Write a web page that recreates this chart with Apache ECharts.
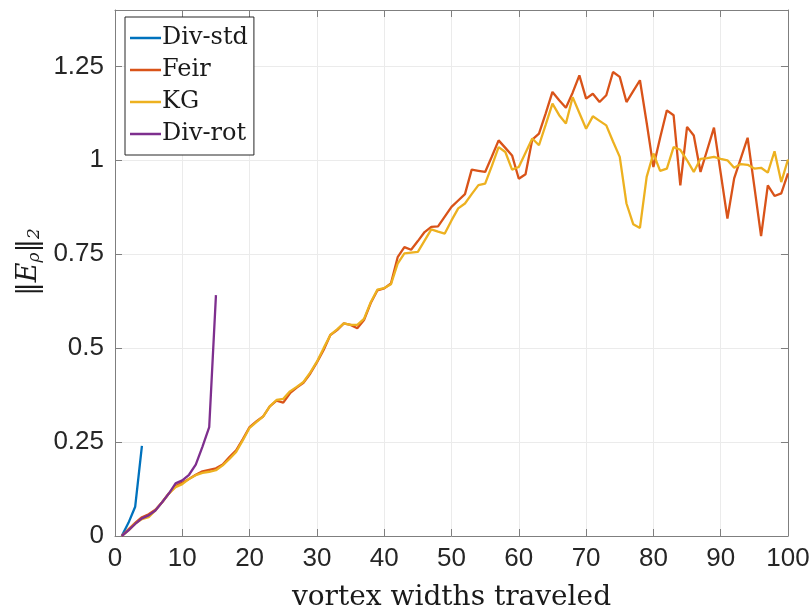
<!DOCTYPE html>
<html>
<head>
<meta charset="utf-8">
<script src="https://cdn.jsdelivr.net/npm/echarts@6/dist/echarts.min.js"></script>
<style>
  html, body { margin: 0; padding: 0; background: #fff; }
  #chart { width: 812px; height: 616px; }
</style>
</head>
<body>
<div id="chart"></div>
<script>
// Error norm ||E_rho||_2 against distance travelled (in vortex widths).
// Each series is sampled once per vortex width, starting at 1.
const seriesNames = ['Div-std', 'Feir', 'KG', 'Div-rot'];

const divStd = [0, 0.035, 0.078, 0.24];

const feir = [
  0, 0.018, 0.035, 0.05, 0.058, 0.07, 0.09, 0.113, 0.133, 0.142,
  0.152, 0.163, 0.172, 0.176, 0.18, 0.19, 0.21, 0.228, 0.258, 0.29,
  0.305, 0.318, 0.345, 0.36, 0.355, 0.38, 0.395, 0.408, 0.432, 0.462,
  0.495, 0.535, 0.548, 0.566, 0.562, 0.553, 0.575, 0.62, 0.654, 0.659,
  0.672, 0.742, 0.769, 0.762, 0.785, 0.809, 0.823, 0.824, 0.85, 0.876,
  0.893, 0.91, 0.975, 0.972, 0.969, 1.01, 1.053, 1.033, 1.013, 0.951,
  0.963, 1.055, 1.071, 1.125, 1.182, 1.16, 1.14, 1.18, 1.226, 1.164,
  1.177, 1.155, 1.173, 1.235, 1.222, 1.155, 1.184, 1.213, 1.10, 0.982,
  1.06, 1.133, 1.12, 0.933, 1.089, 1.066, 0.969, 1.028, 1.087, 0.966,
  0.845, 0.952, 1.006, 1.06, 0.93, 0.798, 0.933, 0.905, 0.912, 0.965
];

const kg = [
  0, 0.015, 0.033, 0.045, 0.05, 0.068, 0.09, 0.113, 0.13, 0.138,
  0.152, 0.162, 0.168, 0.171, 0.175, 0.188, 0.205, 0.224, 0.255, 0.288,
  0.303, 0.318, 0.345, 0.362, 0.365, 0.385, 0.397, 0.41, 0.435, 0.464,
  0.5, 0.535, 0.55, 0.566, 0.562, 0.562, 0.578, 0.622, 0.656, 0.66,
  0.67, 0.725, 0.752, 0.754, 0.756, 0.786, 0.816, 0.81, 0.805, 0.84,
  0.872, 0.885, 0.91, 0.934, 0.938, 0.985, 1.035, 1.022, 0.975, 0.982,
  1.02, 1.058, 1.04, 1.095, 1.151, 1.12, 1.098, 1.168, 1.126, 1.084,
  1.117, 1.105, 1.093, 1.05, 1.009, 0.885, 0.83, 0.82, 0.956, 1.018,
  0.972, 0.978, 1.035, 1.028, 1.0, 0.969, 1.004, 1.006, 1.009, 1.004,
  1.0, 0.98, 0.99, 0.988, 0.978, 0.98, 0.967, 1.024, 0.942, 1.002
];

const divRot = [
  0, 0.015, 0.032, 0.047, 0.055, 0.068, 0.09, 0.113, 0.14, 0.148,
  0.163, 0.19, 0.238, 0.29, 0.641
];

const xTicks = [0, 10, 20, 30, 40, 50, 60, 70, 80, 90, 100];
const yTicks = [0, 0.25, 0.5, 0.75, 1, 1.25];

const colors = ['#0072BD', '#D95319', '#EDB120', '#7E2F8E'];

// pair each value with its step number (1, 2, 3, ...)
function toPoints(values) {
  return values.map(function (v, i) { return [i + 1, v]; });
}

const sans = '"Liberation Sans", Arial, Helvetica, sans-serif';
const serif = '"DejaVu Serif", "Liberation Serif", serif';
const axisGray = '#7f7f7f';
const gridGray = '#ebebeb';

const chart = echarts.init(document.getElementById('chart'), null, { renderer: 'canvas' });

function mkSeries(name, values, idx) {
  return {
    name: name,
    type: 'line',
    data: toPoints(values),
    symbol: 'none',
    smooth: false,
    lineStyle: { width: 2.3, color: colors[idx] },
    itemStyle: { color: colors[idx] },
    z: 3 + (idx === 3 ? 1 : 0)
  };
}

const option = {
  animation: false,
  backgroundColor: '#ffffff',
  grid: { left: 115, right: 24, top: 10, bottom: 80, containLabel: false, outerBoundsMode: 'none' },
  legend: {
    orient: 'vertical',
    left: 125,
    top: 17,
    data: seriesNames,
    icon: 'rect',
    itemWidth: 31,
    itemHeight: 2.5,
    itemGap: 8,
    padding: [9, 6, 9, 5],
    backgroundColor: '#ffffff',
    borderColor: '#262626',
    borderWidth: 1,
    textStyle: { fontFamily: serif, fontSize: 24, color: '#1a1a1a', padding: [0, 0, 0, -4] }
  },
  xAxis: [
    {
      type: 'value', min: xTicks[0], max: xTicks[xTicks.length - 1], interval: 10,
      position: 'bottom',
      name: 'vortex widths traveled', nameLocation: 'middle', nameGap: 48,
      nameTextStyle: { fontFamily: serif, fontSize: 28, color: '#1a1a1a' },
      axisLine: { show: true, onZero: false, lineStyle: { color: axisGray, width: 1 } },
      axisTick: { show: true, inside: true, length: 7, lineStyle: { color: axisGray } },
      axisLabel: { fontFamily: sans, fontSize: 26, color: '#262626', margin: 10 },
      splitLine: { show: true, lineStyle: { color: gridGray, width: 1 } }
    },
    {
      type: 'value', min: xTicks[0], max: xTicks[xTicks.length - 1], interval: 10,
      position: 'top',
      axisLine: { show: true, onZero: false, lineStyle: { color: axisGray, width: 1 } },
      axisTick: { show: true, inside: true, length: 7, lineStyle: { color: axisGray } },
      axisLabel: { show: false },
      splitLine: { show: false }
    }
  ],
  yAxis: [
    {
      type: 'value', min: yTicks[0], max: 1.4, interval: 0.25,
      position: 'left',
      axisLine: { show: true, onZero: false, lineStyle: { color: axisGray, width: 1 } },
      axisTick: { show: true, inside: true, length: 7, lineStyle: { color: axisGray } },
      axisLabel: {
        fontFamily: sans, fontSize: 26, color: '#262626', margin: 11,
        formatter: function (v) { return yTicks.indexOf(v) >= 0 ? String(v) : ''; }
      },
      splitLine: { show: true, lineStyle: { color: gridGray, width: 1 } }
    },
    {
      type: 'value', min: yTicks[0], max: 1.4, interval: 0.25,
      position: 'right',
      axisLine: { show: true, onZero: false, lineStyle: { color: axisGray, width: 1 } },
      axisTick: { show: true, inside: true, length: 7, lineStyle: { color: axisGray } },
      axisLabel: { show: false },
      splitLine: { show: false }
    }
  ],
  graphic: [
    {
      type: 'text',
      x: 29,
      y: 262,
      rotation: Math.PI / 2,
      style: {
        text: '{b|‖}{e|E}{s|ρ}{b|‖}{s|2}',
        align: 'center',
        verticalAlign: 'middle',
        fill: '#1a1a1a',
        rich: {
          b: { fontFamily: serif, fontSize: 27, fill: '#1a1a1a' },
          e: { fontFamily: serif, fontSize: 27, fontStyle: 'italic', fill: '#1a1a1a' },
          s: { fontFamily: serif, fontSize: 17, fontStyle: 'italic', fill: '#1a1a1a', verticalAlign: 'bottom', padding: [12, 0, 0, 0] }
        }
      }
    }
  ],
  series: [
    mkSeries(seriesNames[0], divStd, 0),
    mkSeries(seriesNames[1], feir, 1),
    mkSeries(seriesNames[2], kg, 2),
    mkSeries(seriesNames[3], divRot, 3)
  ]
};

chart.setOption(option);
</script>
</body>
</html>
